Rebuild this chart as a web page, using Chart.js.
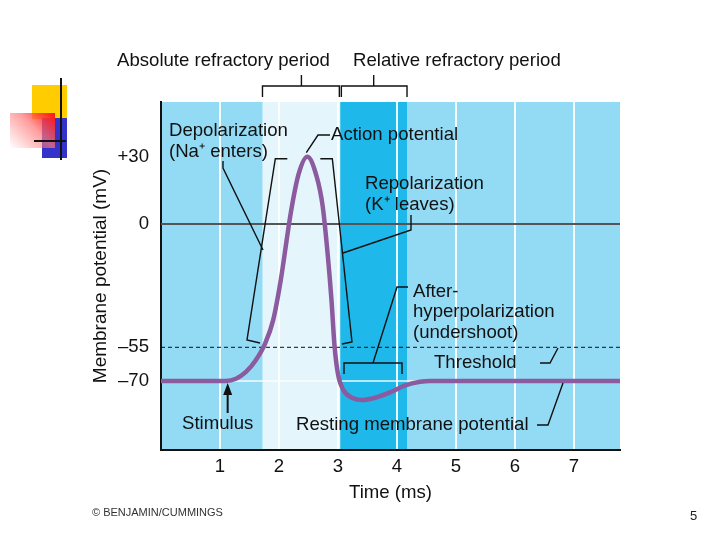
<!DOCTYPE html>
<html>
<head>
<meta charset="utf-8">
<script src="https://cdn.jsdelivr.net/npm/chart.js@4.4.1/dist/chart.umd.min.js"></script>
<style>
  body { margin: 0; background: #fff; }
  #wrap { position: relative; width: 720px; height: 540px; overflow: hidden; font-family: "Liberation Sans", Arial, sans-serif; }
  #apChart { position: absolute; left: 0; top: 0; }
  .deco { position: absolute; }
  .yellow { left: 32px; top: 85px; width: 35px; height: 34px; background: #ffcc00; }
  .blue { left: 42px; top: 118px; width: 25px; height: 40px; background: #3333cc; }
  .red { left: 10px; top: 113px; width: 45px; height: 35px;
         background: linear-gradient(225deg, #ff1010 0%, rgba(255, 120, 120, 0.7) 45%, rgba(255, 255, 255, 0) 100%); }
  .vline { left: 60px; top: 78px; width: 2px; height: 82px; background: #111; }
  .hline { left: 34px; top: 140px; width: 32px; height: 2px; background: #111; }
  .credit { position: absolute; left: 92px; top: 506px; font-size: 11px; color: #333; }
  .page { position: absolute; left: 690px; top: 508px; font-size: 13px; color: #222; }
</style>
</head>
<body>
<div id="wrap">
  <canvas id="apChart" width="720" height="540"></canvas>
  <div class="deco yellow"></div>
  <div class="deco blue"></div>
  <div class="deco red"></div>
  <div class="deco vline"></div>
  <div class="deco hline"></div>
  <div class="credit">© BENJAMIN/CUMMINGS</div>
  <div class="page">5</div>
</div>
<script>
// Membrane potential during an action potential
const timeMs = [0, 1.1, 1.27, 1.44, 1.6, 1.77, 1.9, 2.03, 2.2, 2.33, 2.48, 2.64, 2.74, 2.82, 2.89, 2.94, 3.0, 3.09, 3.24, 3.41, 3.63, 3.89, 4.14, 4.39, 4.56, 7.78];
const potentialMv = [-70, -70, -69, -66, -61, -53, -43, -25, 5, 22, 30, 21, 8, -12, -34, -54, -67, -74, -77.5, -78.5, -77.5, -75, -72, -70.4, -70, -70];

// y axis ticks
const yTickValues = [30, 0, -55, -70];
const yTickLabels = ["+30", "0", "\u201355", "\u201370"];

// refractory periods (ms)
const absRefStart = 1.72;
const absRefEnd = 3.04;
const relRefEnd = 4.17;
const stimulusMs = 1.13;

// reference levels (mV)
const zeroMv = 0;
const thresholdMv = -55;
const restingMv = -70;

const FONT = '"Liberation Sans", Arial, sans-serif';
const baseBlue = "#93dbf5";
const lightBlue = "#e4f5fc";
const darkBlue = "#1fb8ea";

const backdrop = {
  id: "backdrop",
  beforeDraw(chart) {
    const { ctx, chartArea: a, scales: { x } } = chart;
    ctx.save();
    ctx.fillStyle = baseBlue;
    ctx.fillRect(a.left, a.top, a.width, a.height);
    const x1 = x.getPixelForValue(absRefStart);
    const x2 = x.getPixelForValue(absRefEnd);
    const x3 = x.getPixelForValue(relRefEnd);
    ctx.fillStyle = lightBlue;
    ctx.fillRect(x1, a.top, x2 - x1, a.height);
    ctx.fillStyle = darkBlue;
    ctx.fillRect(x2, a.top, x3 - x2, a.height);
    ctx.restore();
  },
  beforeDatasetsDraw(chart) {
    const { ctx, chartArea: a, scales: { y } } = chart;
    ctx.save();
    // resting level (white)
    ctx.strokeStyle = "rgba(255,255,255,0.9)";
    ctx.lineWidth = 1.5;
    ctx.beginPath();
    ctx.moveTo(a.left, y.getPixelForValue(restingMv));
    ctx.lineTo(a.right, y.getPixelForValue(restingMv));
    ctx.stroke();
    // 0 mV
    ctx.strokeStyle = "#555";
    ctx.lineWidth = 2;
    ctx.beginPath();
    ctx.moveTo(a.left, y.getPixelForValue(zeroMv));
    ctx.lineTo(a.right, y.getPixelForValue(zeroMv));
    ctx.stroke();
    // threshold
    ctx.strokeStyle = "#111";
    ctx.lineWidth = 1;
    ctx.setLineDash([4, 3]);
    ctx.beginPath();
    ctx.moveTo(a.left, y.getPixelForValue(thresholdMv));
    ctx.lineTo(a.right, y.getPixelForValue(thresholdMv));
    ctx.stroke();
    ctx.restore();
  },
};

const labels = {
  id: "labels",
  afterDraw(chart) {
    const { ctx, scales: { x, y } } = chart;
    const line = (pts) => {
      ctx.beginPath();
      ctx.moveTo(pts[0][0], pts[0][1]);
      for (let i = 1; i < pts.length; i++) ctx.lineTo(pts[i][0], pts[i][1]);
      ctx.stroke();
    };
    const text = (s, tx, ty) => ctx.fillText(s, tx, ty);

    ctx.save();
    ctx.fillStyle = "#111";
    ctx.strokeStyle = "#111";
    ctx.lineWidth = 1.4;
    ctx.font = "18.6px " + FONT;
    ctx.textBaseline = "middle";
    ctx.textAlign = "left";

    // refractory period brackets
    text("Absolute refractory period", 117, 61);
    text("Relative refractory period", 353, 61);
    const b1 = x.getPixelForValue(absRefStart);
    const b2 = x.getPixelForValue(absRefEnd);
    const b3 = x.getPixelForValue(relRefEnd);
    line([[b1, 97], [b1, 86], [b2 - 1, 86], [b2 - 1, 97]]);
    line([[b2 + 1, 97], [b2 + 1, 86], [b3, 86], [b3, 97]]);
    line([[(b1 + b2) / 2, 75], [(b1 + b2) / 2, 86]]);
    line([[(b2 + b3) / 2, 75], [(b2 + b3) / 2, 86]]);

    // peak
    const pi = potentialMv.indexOf(Math.max(...potentialMv));
    const px = x.getPixelForValue(timeMs[pi]);
    const py = y.getPixelForValue(potentialMv[pi]);

    text("Action potential", 331, 135);
    line([[330, 135], [318, 135], [px - 1, py - 4]]);

    text("Depolarization", 169, 131);
    text("(Na\u207A enters)", 169, 152);
    const top = py + 2;
    line([[px - 20, top], [px - 32, top], [247, 340], [260, 343]]);
    line([[223, 161], [223, 168], [263, 250]]);

    text("Repolarization", 365, 184);
    text("(K\u207A leaves)", 365, 205);
    line([[px + 13, top], [px + 25, top], [352, 342], [342, 344]]);
    line([[411, 215], [411, 230], [343, 253]]);

    text("After-", 413, 292);
    text("hyperpolarization", 413, 312);
    text("(undershoot)", 413, 333);
    line([[408, 287], [397, 287], [373, 363]]);
    line([[344, 374], [344, 363], [402, 363], [402, 374]]);

    text("Threshold", 434, 363);
    line([[540, 363], [550, 363], [558, 348]]);

    text("Resting membrane potential", 296, 425);
    line([[537, 425], [548, 425], [563, 383]]);

    text("Stimulus", 182, 424);
    const sx = x.getPixelForValue(stimulusMs);
    ctx.lineWidth = 2;
    line([[sx, 413], [sx, 392]]);
    ctx.beginPath();
    ctx.moveTo(sx, 383);
    ctx.lineTo(sx - 4.5, 395);
    ctx.lineTo(sx + 4.5, 395);
    ctx.closePath();
    ctx.fill();
    ctx.restore();
  },
};

const ctx = document.getElementById("apChart").getContext("2d");
new Chart(ctx, {
  type: "line",
  data: {
    datasets: [
      {
        label: "Membrane potential",
        data: timeMs.map((t, i) => ({ x: t, y: potentialMv[i] })),
        borderColor: "#8c5a9f",
        borderWidth: 4.5,
        pointRadius: 0,
        cubicInterpolationMode: "monotone",
        fill: false,
      },
    ],
  },
  options: {
    responsive: false,
    animation: false,
    layout: { padding: { left: 0, right: 100, top: 102, bottom: 0 } },
    plugins: {
      legend: { display: false },
      tooltip: { enabled: false },
    },
    scales: {
      x: {
        type: "linear",
        min: 0,
        max: 7.78,
        afterFit: (s) => { s.height = 90; },
        ticks: {
          stepSize: 1,
          includeBounds: false,
          padding: 6,
          color: "#111",
          font: { family: FONT, size: 18.6 },
          callback: (v) => (v === 0 ? "" : v),
        },
        grid: {
          drawTicks: false,
          lineWidth: 2,
          color: (c) => (c.tick && c.tick.value === 0 ? "rgba(0,0,0,0)" : "rgba(255,255,255,0.9)"),
        },
        border: { display: true, color: "#111", width: 2 },
        title: {
          display: true,
          text: "Time (ms)",
          color: "#111",
          font: { family: FONT, size: 18.6 },
          padding: { top: 0, bottom: 36 },
        },
      },
      y: {
        type: "linear",
        min: -100.8,
        max: 54.4,
        afterFit: (s) => { s.width = 161; },
        afterBuildTicks: (s) => { s.ticks = yTickValues.map((v) => ({ value: v })); },
        ticks: {
          padding: 12,
          color: "#111",
          font: { family: FONT, size: 18.6 },
          callback: (v) => yTickLabels[yTickValues.indexOf(v)],
        },
        grid: { display: false, drawTicks: false },
        border: { display: true, color: "#111", width: 2 },
        title: {
          display: true,
          text: "Membrane potential (mV)",
          color: "#111",
          font: { family: FONT, size: 19 },
          padding: { top: 89, bottom: 0 },
        },
      },
    },
  },
  plugins: [backdrop, labels],
});
</script>
</body>
</html>
